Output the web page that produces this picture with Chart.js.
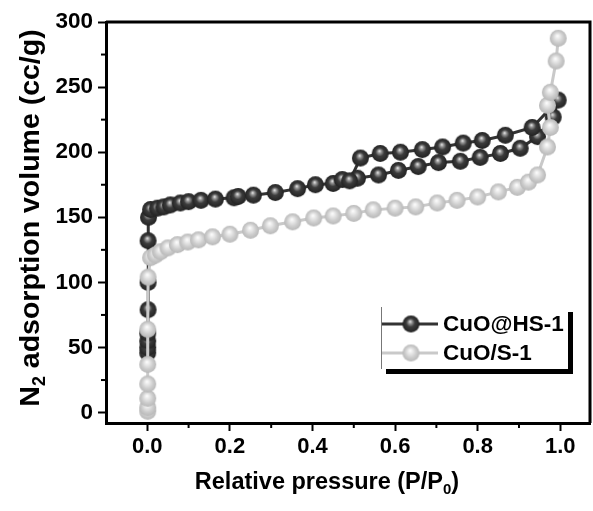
<!DOCTYPE html>
<html>
<head>
<meta charset="utf-8">
<script src="https://cdn.jsdelivr.net/npm/chart.js@4.4.1/dist/chart.umd.min.js"></script>
<style>
    html, body { margin: 0; padding: 0; background: #ffffff; }
    #wrap { width: 593px; height: 511px; }
</style>
</head>
<body>
<div id="wrap"><canvas id="myChart" width="593" height="511"></canvas></div>
<script>
// series names
const seriesNames = ['CuO@HS-1', 'CuO/S-1'];

// CuO@HS-1 : adsorption branch then desorption branch
const hsPressure = [0.001, 0.001, 0.001, 0.001, 0.002, 0.002, 0.002,
    0.003, 0.008, 0.025, 0.04, 0.056, 0.08, 0.1, 0.13, 0.165, 0.21, 0.22, 0.257, 0.31, 0.364,
    0.407, 0.45, 0.472, 0.509, 0.56, 0.608, 0.656, 0.705, 0.758, 0.806, 0.855, 0.903, 0.945,
    0.983, 0.995,
    0.932, 0.867, 0.811, 0.765, 0.715, 0.666, 0.613, 0.564, 0.516, 0.49];
const hsVolume = [46, 50, 55, 61, 79, 100, 132,
    150, 156, 157, 158, 159.5, 161, 162, 163, 164, 165, 166, 167, 169, 172,
    175, 176, 179, 180, 182.5, 186, 189, 192, 193, 196, 199, 203, 212,
    227, 240,
    219, 213, 209, 207, 204, 202, 200, 199, 195.5, 178];

// CuO/S-1
const sPressure = [0.001, 0.001, 0.001, 0.001, 0.001, 0.001, 0.002,
    0.008, 0.02, 0.032, 0.05, 0.073, 0.098, 0.124, 0.158, 0.2, 0.25, 0.298, 0.352, 0.403,
    0.45, 0.5, 0.547, 0.6, 0.65, 0.702, 0.75, 0.8, 0.85, 0.896, 0.923, 0.945,
    0.969, 0.976, 0.969, 0.976, 0.99, 0.995];
const sVolume = [1, 4, 11, 22, 37, 64, 104,
    119, 121, 123.5, 126.5, 129, 131, 132.7, 135, 137, 140, 143.5, 146.5, 149.5,
    151, 153, 155.7, 157, 158, 161, 163, 165.6, 169.5, 173, 177, 182.5,
    204, 219, 236, 246, 270, 287.5];

// tick labels
const xTickLabels = [0.0, 0.2, 0.4, 0.6, 0.8, 1.0];
const yTickLabels = [0, 50, 100, 150, 200, 250, 300];

const FONT = '"Liberation Sans", Arial, sans-serif';

function toPoints(xs, ys) {
    return xs.map((x, i) => ({ x: x, y: ys[i] }));
}

// shaded ball used as marker
function makeBall(radius, stops) {
    const c = document.createElement('canvas');
    const size = Math.ceil(radius * 2 + 2);
    c.width = size;
    c.height = size;
    const g = c.getContext('2d');
    const cx = size / 2, cy = size / 2;
    const grad = g.createRadialGradient(cx - radius * 0.1, cy - radius * 0.3, 0, cx, cy, radius);
    stops.forEach(s => grad.addColorStop(s[0], s[1]));
    g.fillStyle = grad;
    g.beginPath();
    g.arc(cx, cy, radius, 0, Math.PI * 2);
    g.fill();
    return c;
}

const darkBall = makeBall(8.5, [[0, '#f0f0f0'], [0.2, '#9a9a9a'], [0.5, '#3c3c3c'], [1, '#222222']]);
const lightBall = makeBall(8.5, [[0, '#ffffff'], [0.3, '#e8e8e8'], [0.65, '#cdcdcd'], [1, '#b8b8b8']]);
const darkLine = '#333333';
const lightLine = '#c9c9c9';

function isLabelled(list, v) {
    return list.some(t => Math.abs(t - v) < 1e-6);
}

// frame, minor ticks, titles and legend
const decorPlugin = {
    id: 'decor',
    afterDraw(chart) {
        const ctx = chart.ctx;
        const a = chart.chartArea;
        const xs = chart.scales.x, ys = chart.scales.y;
        ctx.save();

        // top and right frame
        ctx.strokeStyle = '#000';
        ctx.lineWidth = 3;
        ctx.beginPath();
        ctx.moveTo(a.left, a.top);
        ctx.lineTo(a.right, a.top);
        ctx.lineTo(a.right, a.bottom);
        ctx.stroke();

        // minor ticks
        ctx.lineWidth = 2;
        xs.ticks.forEach(t => {
            if (t.value < 0 || isLabelled(xTickLabels, t.value)) return;
            const px = xs.getPixelForValue(t.value);
            ctx.beginPath();
            ctx.moveTo(px, a.bottom);
            ctx.lineTo(px, a.bottom + 5);
            ctx.stroke();
        });
        ys.ticks.forEach(t => {
            if (t.value < 0 || isLabelled(yTickLabels, t.value)) return;
            const py = ys.getPixelForValue(t.value);
            ctx.beginPath();
            ctx.moveTo(a.left, py);
            ctx.lineTo(a.left - 5, py);
            ctx.stroke();
        });

        // axis titles with subscripts
        ctx.fillStyle = '#000';
        ctx.textBaseline = 'middle';
        ctx.textAlign = 'left';
        drawSubText(ctx, [['Relative pressure (P/P', false], ['0', true], [')', false]], 327, 483, 23.5);
        ctx.save();
        ctx.translate(31, 218);
        ctx.rotate(-Math.PI / 2);
        drawSubText(ctx, [['N', false], ['2', true], [' adsorption volume (cc/g)', false]], 0, 0, 28.5);
        ctx.restore();

        // legend box with shadow
        const lx = 381, ly = 307, lw = 187, lh = 62;
        ctx.fillStyle = '#000';
        ctx.fillRect(lx + 5, ly + 5, lw, lh);
        ctx.fillStyle = '#fff';
        ctx.fillRect(lx, ly, lw, lh);
        ctx.strokeStyle = '#777';
        ctx.lineWidth = 1;
        ctx.beginPath();
        ctx.moveTo(lx + 0.5, ly);
        ctx.lineTo(lx + 0.5, ly + lh);
        ctx.stroke();

        const entries = [
            { name: seriesNames[0], line: darkLine, ball: darkBall, y: 324 },
            { name: seriesNames[1], line: lightLine, ball: lightBall, y: 353 }
        ];
        entries.forEach(e => {
            ctx.strokeStyle = e.line;
            ctx.lineWidth = 3;
            ctx.beginPath();
            ctx.moveTo(lx + 1, e.y);
            ctx.lineTo(lx + 57, e.y);
            ctx.stroke();
            ctx.drawImage(e.ball, lx + 30 - e.ball.width / 2, e.y - e.ball.height / 2);
            ctx.fillStyle = '#000';
            ctx.font = 'bold 22.5px ' + FONT;
            ctx.textAlign = 'left';
            ctx.textBaseline = 'middle';
            ctx.fillText(e.name, lx + 62, e.y + 1);
        });
        ctx.restore();
    }
};

function drawSubText(ctx, parts, x, y, size) {
    let total = 0;
    const widths = parts.map(p => {
        ctx.font = 'bold ' + (p[1] ? Math.round(size * 0.62) : size) + 'px ' + FONT;
        const w = ctx.measureText(p[0]).width;
        total += w;
        return w;
    });
    let cx = x - total / 2;
    parts.forEach((p, i) => {
        ctx.font = 'bold ' + (p[1] ? Math.round(size * 0.62) : size) + 'px ' + FONT;
        ctx.fillText(p[0], cx, p[1] ? y + size * 0.3 : y);
        cx += widths[i];
    });
}

function noPad(s) {
    s.paddingLeft = 0;
    s.paddingRight = 0;
    s.paddingTop = 0;
    s.paddingBottom = 0;
}

const ctx = document.getElementById('myChart');

// markers are images, so keep the radius tiny to stop chart.js padding the plot area
new Chart(ctx, {
    type: 'scatter',
    data: {
        datasets: [{
            label: seriesNames[0],
            data: toPoints(hsPressure, hsVolume),
            showLine: true,
            borderColor: darkLine,
            borderWidth: 3,
            pointStyle: darkBall,
            pointRadius: 0.5,
            pointHoverRadius: 0,
            pointBorderWidth: 0,
            order: 2
        }, {
            label: seriesNames[1],
            data: toPoints(sPressure, sVolume),
            showLine: true,
            borderColor: lightLine,
            borderWidth: 3,
            pointStyle: lightBall,
            pointRadius: 0.5,
            pointHoverRadius: 0,
            pointBorderWidth: 0,
            order: 1
        }]
    },
    options: {
        responsive: false,
        animation: false,
        layout: { padding: { top: 22, right: 3, left: 0, bottom: 0 } },
        plugins: {
            legend: { display: false },
            tooltip: { enabled: false }
        },
        scales: {
            x: {
                type: 'linear',
                min: -0.1,
                max: 1.072,
                afterFit: s => { s.height = 88; noPad(s); },
                border: { display: true, color: '#000', width: 3 },
                grid: {
                    drawOnChartArea: false,
                    tickLength: 8,
                    tickWidth: 2,
                    tickColor: c => isLabelled(xTickLabels, c.tick.value) ? '#000' : 'rgba(0,0,0,0)'
                },
                ticks: {
                    stepSize: 0.1,
                    includeBounds: false,
                    padding: 3,
                    color: '#000',
                    font: { family: FONT, size: 22, weight: 'bold' },
                    callback: v => isLabelled(xTickLabels, v) ? v.toFixed(1) : ''
                }
            },
            y: {
                type: 'linear',
                min: -8,
                max: 300,
                afterFit: s => { s.width = 106; noPad(s); },
                border: { display: true, color: '#000', width: 3 },
                grid: {
                    drawOnChartArea: false,
                    tickLength: 8,
                    tickWidth: 2,
                    tickColor: c => isLabelled(yTickLabels, c.tick.value) ? '#000' : 'rgba(0,0,0,0)'
                },
                ticks: {
                    stepSize: 25,
                    includeBounds: false,
                    padding: 5,
                    color: '#000',
                    font: { family: FONT, size: 22.5, weight: 'bold' },
                    callback: v => isLabelled(yTickLabels, v) ? String(v) : ''
                }
            }
        }
    },
    plugins: [decorPlugin]
});
</script>
</body>
</html>
